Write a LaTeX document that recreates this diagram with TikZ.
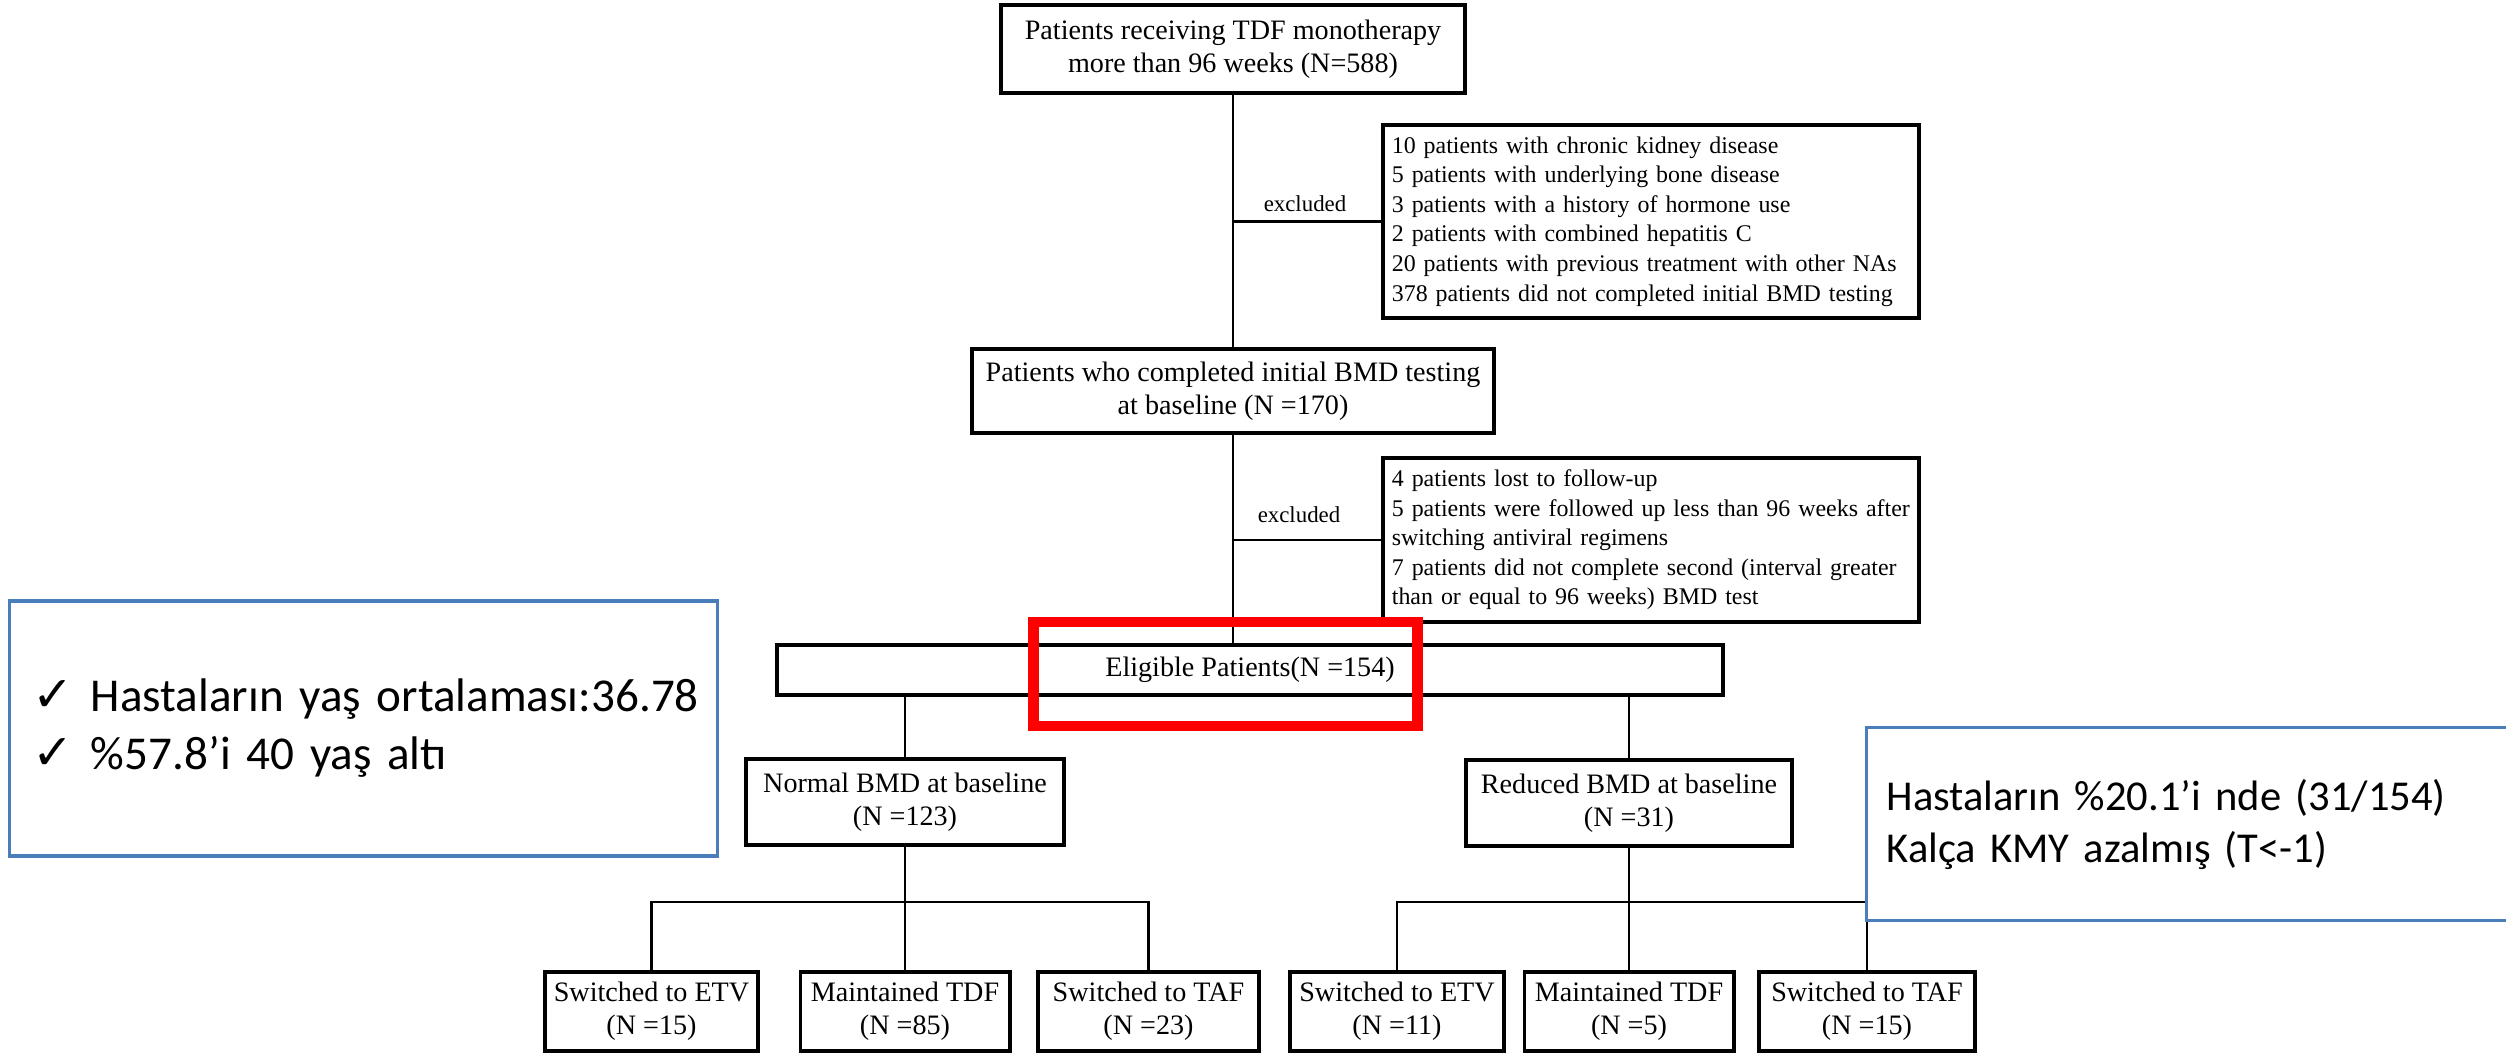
\documentclass[tikz,border=0pt]{standalone}
\usepackage{fontspec}
\setmainfont{Liberation Serif}
\newfontfamily\calfont{Carlito}
\newfontfamily\symfont{DejaVu Sans}
\usepackage{tikz}
\usetikzlibrary{calc}
\definecolor{noteblue}{RGB}{74,126,187}

\begin{document}
\begin{tikzpicture}[x = 0.01cm, y = -0.01cm,
	flowbox/.style = {draw, line width = 1.1pt, align = center, inner sep = 0pt, font = \fontsize{8}{9.5}\selectfont},
	leafbox/.style = {flowbox, minimum height = 0.79cm},
	exclbox/.style = {draw, line width = 1.1pt, align = left, inner xsep = 0.09cm, inner ysep = 0pt, text width = 5.18cm, minimum height = #1, font = \fontsize{6.8}{8.4}\selectfont},
	exlabel/.style = {inner sep = 0pt, font = \fontsize{6.5}{7}\selectfont},
	link/.style = {line width = 0.8pt},
	notebox/.style = {draw = noteblue, line width = 0.9pt, align = left, inner ysep = 0pt},
	hilite/.style = {draw = red, line width = 3.1pt, inner sep = 0pt}]
	
	\useasboundingbox (0,0) rectangle (2506,1055);
	
	\node[flowbox, minimum width = 4.63cm, minimum height = 0.88cm] (start) at (1233,49) {Patients receiving TDF monotherapy\\more than 96 weeks (N=588)};
	\node[exclbox = 1.93cm] (excl1) at (1651,221.5) {10 patients with chronic kidney disease\\5 patients with underlying bone disease\\3 patients with a history of hormone use\\2 patients with combined hepatitis C\\20 patients with previous treatment with other NAs\\378 patients did not completed initial BMD testing};
	\node[flowbox, minimum width = 5.22cm, minimum height = 0.84cm] (initial) at (1233,391) {Patients who completed initial BMD testing\\at baseline (N =170)};
	\node[exclbox = 1.64cm] (excl2) at (1651,540) {4 patients lost to follow-up\\5 patients were followed up less than 96 weeks after\\switching antiviral regimens\\7 patients did not complete second (interval greater\\than or equal to 96 weeks) BMD test};
	\node[flowbox, minimum width = 9.46cm, minimum height = 0.50cm] (eligible) at (1250,670) {Eligible Patients(N =154)};
	
	\node[flowbox, minimum width = 3.18cm, minimum height = 0.86cm] (normal) at (905,802) {Normal BMD at baseline\\(N =123)};
	\node[flowbox, minimum width = 3.25cm, minimum height = 0.86cm] (reduced) at (1629,803) {Reduced BMD at baseline\\(N =31)};
	
	\node[leafbox, minimum width = 2.13cm] (netv) at (651.5,1011.5) {Switched to ETV\\(N =15)};
	\node[leafbox, minimum width = 2.09cm] (ntdf) at (905,1011.5) {Maintained TDF\\(N =85)};
	\node[leafbox, minimum width = 2.21cm] (ntaf) at (1148.5,1011.5) {Switched to TAF\\(N =23)};
	\node[leafbox, minimum width = 2.14cm] (retv) at (1397,1011.5) {Switched to ETV\\(N =11)};
	\node[leafbox, minimum width = 2.09cm] (rtdf) at (1629,1011.5) {Maintained TDF\\(N =5)};
	\node[leafbox, minimum width = 2.16cm] (rtaf) at (1867,1011.5) {Switched to TAF\\(N =15)};
	
	\draw[link] (start.south) -- (initial.north);
	\draw[link] (start.south |- excl1.west) -- (excl1.west);
	\node[exlabel] (exc1) at (1305,204) {excluded};
	\draw[link] (initial.south) -- (initial.south |- eligible.north);
	\draw[link] (initial.south |- excl2.west) -- (excl2.west);
	\node[exlabel] (exc2) at (1299,515) {excluded};
	
	\draw[link] (normal.north |- eligible.south) -- (normal.north);
	\draw[link] (reduced.north |- eligible.south) -- (reduced.north);
	
	\coordinate (nbar) at (905,902);
	\coordinate (rbar) at (1629,902);
	\draw[link] (normal.south) -- (ntdf.north);
	\draw[link] (netv.north) |- (nbar) -| (ntaf.north);
	\draw[link] (reduced.south) -- (rtdf.north);
	\draw[link] (retv.north) |- (rbar) -| (rtaf.north);
	
	\node[hilite, minimum width = 3.83cm, minimum height = 1.04cm] (mark) at (1225.5,674) {};
	
	\node[notebox, minimum width = 7.07cm, minimum height = 2.55cm, inner xsep = 0.185cm, text width = 6.7cm, font = \calfont\fontsize{13.4}{16.5}\selectfont] (agebox) at (363.5,728.5) {\mbox{\hspace*{1.3pt}\makebox[16.5pt][l]{\symfont\fontsize{14}{14}\selectfont ✓}Hastaların yaş ortalaması:36.78}\\\mbox{\hspace*{1.3pt}\makebox[16.5pt][l]{\symfont\fontsize{14}{14}\selectfont ✓}\%57.8’i 40 yaş altı}};
	\node[notebox, anchor = north west, inner xsep = 0.2cm, text width = 7.0cm, minimum height = 1.93cm, font = \calfont\fontsize{12.1}{14.8}\selectfont] (bmdbox) at (1865,726) {Hastaların \%20.1’i nde (31/154)\\Kalça KMY azalmış (T<-1)};
\end{tikzpicture}
\end{document}
